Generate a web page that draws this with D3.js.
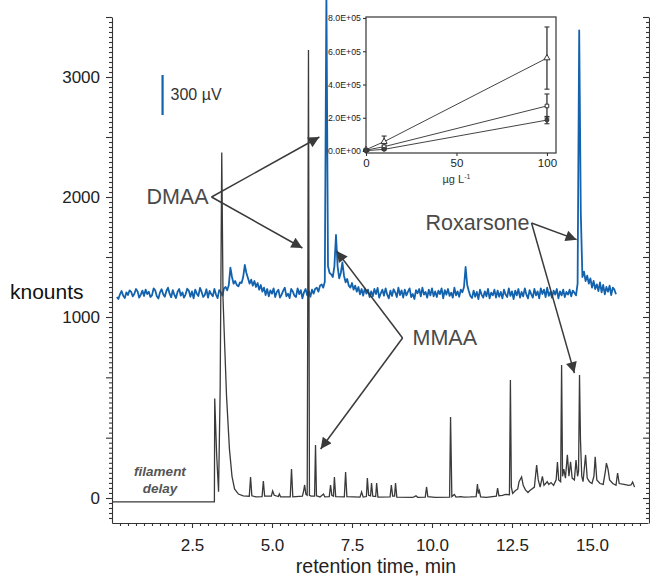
<!DOCTYPE html>
<html>
<head>
<meta charset="utf-8">
<script src="https://cdn.jsdelivr.net/npm/d3@7"></script>
<style>
  body { margin: 0; background: #fff; }
  text { font-family: "Liberation Sans", Arial, sans-serif; }
</style>
</head>
<body>
<div id="chart"></div>
<script>

var svgWidth = 650;
var svgHeight = 577;

var chartMargin = {
    top: 17,
    right: 2,
    bottom: 54,
    left: 112
};

var chartWidth = svgWidth - chartMargin.left - chartMargin.right;
var chartHeight = svgHeight - chartMargin.top - chartMargin.bottom;

// axis ticks
var xTickValues = [2.5, 5, 7.5, 10, 12.5, 15];
var xTickLabels = ["2.5", "5.0", "7.5", "10.0", "12.5", "15.0"];
var yBreaks = [0, 333.3, 666.7, 1000, 1500, 2000, 2500, 3000, 3500];
var yTickLabels = { 0: "0", 1000: "1000", 2000: "2000", 3000: "3000" };

// ICP-MS trace (black), [min, knounts]
var ionTrace = [
    [0.0, -22], [3.2, -22], [3.21, 550], [3.27, 240], [3.33, 35], [3.38, 600], [3.43, 2370], [3.47, 1150],
    [3.52, 850], [3.58, 560], [3.67, 270], [3.75, 120], [3.83, 50], [3.95, 22], [4.1, 12],
    [4.29, 10], [4.33, 116], [4.37, 12], [4.5, 6], [4.69, 8], [4.73, 94], [4.77, 10],
    [4.98, 10], [5.02, 39], [5.07, 15], [5.2, 8], [5.23, 22], [5.27, 6],
    [5.57, 6], [5.61, 160], [5.65, 6], [5.95, 10], [5.99, 40], [6.02, 72], [6.06, 20], [6.1, 15],
    [6.14, 3225], [6.17, 15], [6.22, 10], [6.33, 10], [6.36, 293], [6.39, 12], [6.5, 6], [6.61, 22], [6.65, 6],
    [6.79, 8], [6.83, 72], [6.87, 15], [6.92, 10], [6.95, 116], [6.99, 8],
    [7.26, 6], [7.3, 144], [7.34, 8], [7.75, 5], [7.8, 33], [7.85, 5],
    [7.95, 8], [7.98, 110], [8.02, 15], [8.08, 12], [8.11, 83], [8.15, 10], [8.24, 8], [8.27, 83], [8.31, 5],
    [8.69, 6], [8.73, 72], [8.77, 10], [8.83, 10], [8.86, 83], [8.9, 5],
    [9.4, 3], [9.5, 12], [9.55, 4], [9.79, 5], [9.83, 61], [9.87, 8], [10.1, 3],
    [10.55, 5], [10.58, 448], [10.62, 8], [10.7, 20], [10.75, 5], [10.9, 8], [11.0, 5], [11.2, 6],
    [11.38, 8], [11.42, 77], [11.45, 25], [11.48, 40], [11.52, 6], [11.7, 4],
    [12.01, 10], [12.05, 55], [12.09, 12], [12.2, 15], [12.3, 20], [12.42, 18], [12.45, 652], [12.48, 60],
    [12.52, 25], [12.6, 40], [12.68, 50], [12.72, 90], [12.8, 116], [12.85, 70], [12.92, 45], [13.0, 30], [13.05, 40],
    [13.2, 60], [13.27, 182], [13.32, 100], [13.38, 60], [13.45, 120], [13.5, 70], [13.6, 90], [13.65, 75],
    [13.72, 85], [13.8, 70], [13.88, 100], [13.92, 199], [13.96, 100], [14.02, 90], [14.05, 735], [14.08, 120],
    [14.12, 160], [14.17, 110], [14.23, 238], [14.28, 120], [14.33, 200], [14.38, 110], [14.45, 100], [14.5, 210],
    [14.55, 120], [14.58, 150], [14.61, 680], [14.64, 320], [14.68, 120], [14.72, 90], [14.8, 238], [14.85, 110],
    [14.92, 90], [15.0, 80], [15.06, 120], [15.1, 227], [15.15, 100], [15.25, 80], [15.35, 75], [15.42, 150],
    [15.45, 193], [15.5, 160], [15.55, 100], [15.65, 80], [15.75, 70], [15.8, 138], [15.85, 80], [16.0, 75],
    [16.15, 70], [16.22, 72], [16.27, 88], [16.33, 60]
];

// electrochemical trace (blue), µV above baseline, sampled every 0.05 min from 0.15 min
var ecdStart = 0.15;
var ecdStep = 0.05;
var ecdSignal = [
    -30, -45, -10, 15, -20, -38, 5, -15, 20, 8, -25, -5, 30, 12, -35, -12, 18, -22, 25, -8,
    10, -30, -18, 35, 20, -25, -42, 5, 28, -10, -28, 15, 40, -5, -32, 22, -15, -38, 10, 30,
    -20, 5, -35, -10, 32, 18, -28, 12, -40, 25, -5, -22, 38, 8, -30, -15, 28, -35, 15, -8,
    -25, 30, -12, -38, 22, 5, -20, 35, 45, 20, 60, 190, 120, 70, 90, 60, 50, 80, 75, 120,
    210, 150, 110, 70, 100, 55, 90, 45, 75, 25, 60, 10, 40, -15, 30, -25, 20, -5, 35, -30,
    8, 25, -35, -12, 18, 40, -25, -5, -38, 30, 12, -20, -30, 35, -8, 22, -40, 5, 30, -18,
    15, -28, 25, -5, 32, 40, 10, 55, 65, 40, 85, 2250, 200, 150, 140, 120, 200, 435, 200, 110,
    150, 230, 130, 80, 105, 55, 40, 75, 25, 55, 10, 45, -10, 30, -20, 35, -5, 25, -30, 12,
    -25, 30, -8, 38, -35, -2, 25, -20, 35, -12, -40, 18, -22, 28, 5, -30, 40, -15, 20, -35,
    25, -18, 10, 35, -30, -8, -45, 22, -2, 30, -25, 40, -12, 8, -35, 25, -18, 35, -25, 12,
    -30, 18, -8, 35, -40, 22, -12, 30, -22, 2, -35, 40, -18, 12, -28, 25, 5, 45, 195, 60,
    15, -22, -38, 18, -28, 8, -45, 25, -12, -35, 12, -25, 30, -40, 2, -18, 25, -35, 18, -28,
    8, -40, 25, -12, -30, 35, -22, 12, -45, 18, -18, 30, -35, 8, -25, 35, -12, -40, 22, -8,
    -35, 30, -18, 12, -40, 35, -8, 25, -30, 40, -22, 8, -35, 18, -12, 30, -40, 12, -18, 25,
    -30, 8, -12, 25, -25, 18, 2, -18, 70, 1970, 600, 120, 160, 90, 130, 70, 110, 40, 90, 30,
    65, 15, 80, 5, 60, -10, 45, 10, 55, -15, 40, 25, -10
];
var scaleBarUV = 300;

// inset calibration
var insetConc = [0, 10, 100];
var insetTriangle = [8000, 56000, 559000];
var insetTriangleErr = [4000, 34000, 187000];
var insetSquare = [5000, 26000, 271000];
var insetSquareErr = [3000, 9000, 72000];
var insetCircle = [2000, 10000, 186000];
var insetCircleErr = [2000, 5000, 22000];
var insetXTicks = [0, 50, 100];
var insetYTicks = [0, 200000, 400000, 600000, 800000];
var insetYLabels = ["0.0E+00", "2.0E+05", "4.0E+05", "6.0E+05", "8.0E+05"];

var svg = d3.select("#chart")
    .append("svg")
    .attr("width", svgWidth)
    .attr("height", svgHeight);

var defs = svg.append("defs");
defs.append("marker")
    .attr("id", "head")
    .attr("markerUnits", "userSpaceOnUse")
    .attr("viewBox", "0 0 10 10")
    .attr("markerWidth", 15)
    .attr("markerHeight", 11)
    .attr("refX", 10)
    .attr("refY", 5)
    .attr("orient", "auto")
    .append("path")
    .attr("d", "M0,0 L10,5 L0,10 z")
    .attr("fill", "#3a3a3a");

var chartGroup = svg.append("g")
    .attr("transform", `translate(${chartMargin.left}, ${chartMargin.top})`);

var xScale = d3.scaleLinear().domain([0, 16.75]).range([0, chartWidth]);
var yScale = d3.scaleLinear().domain([-139, 0, 1000, 3500]).range([chartHeight, 481, 300, 0]);
var yBlue = d3.scaleLinear().domain([0, scaleBarUV]).range([276, 236]);

function subdivide(breaks, n) {
    var out = [];
    for (var i = 0; i < breaks.length - 1; i++) {
        for (var k = 1; k < n; k++) out.push(breaks[i] + (breaks[i + 1] - breaks[i]) * k / n);
    }
    return out;
}
var yMinor = subdivide(yBreaks, 12).concat(subdivide([-111.1, 0], 4), [-111.1]);
var xMinor = d3.range(0.25, 16.6, 0.25).filter(v => xTickValues.indexOf(v) < 0);

// traces
chartGroup.append("path")
    .datum(ecdSignal)
    .attr("fill", "none")
    .attr("stroke", "#1262ae")
    .attr("stroke-width", 1.8)
    .attr("stroke-linejoin", "round")
    .attr("d", d3.line().x((d, i) => xScale(ecdStart + i * ecdStep)).y(d => yBlue(d)));

chartGroup.append("path")
    .datum(ionTrace)
    .attr("fill", "none")
    .attr("stroke", "#3a3a3a")
    .attr("stroke-width", 1.3)
    .attr("d", d3.line().x(d => xScale(d[0])).y(d => yScale(d[1])));

// axes
function styleAxis(g) {
    g.selectAll("path, line").attr("stroke", "#333").attr("stroke-width", 1.1);
    g.selectAll("text").attr("fill", "#222").attr("font-family", "Liberation Sans, Arial, sans-serif");
}

chartGroup.append("g")
    .call(d3.axisLeft(yScale).tickValues(yBreaks).tickSize(6).tickSizeOuter(0).tickPadding(6)
        .tickFormat(d => yTickLabels[d] || ""))
    .attr("font-size", 17)
    .call(styleAxis);
chartGroup.append("g")
    .call(d3.axisLeft(yScale).tickValues(yMinor).tickSize(3).tickFormat(""))
    .call(g => g.select(".domain").remove())
    .call(styleAxis);

chartGroup.append("g")
    .attr("transform", `translate(${chartWidth + 1}, 0)`)
    .call(d3.axisLeft(yScale).tickValues(yBreaks).tickSize(6).tickSizeOuter(0).tickFormat(""))
    .call(styleAxis);
chartGroup.append("g")
    .attr("transform", `translate(${chartWidth + 1}, 0)`)
    .call(d3.axisLeft(yScale).tickValues(yMinor).tickSize(3).tickFormat(""))
    .call(g => g.select(".domain").remove())
    .call(styleAxis);

chartGroup.append("g")
    .attr("transform", `translate(0, ${chartHeight})`)
    .call(d3.axisBottom(xScale).tickValues(xTickValues).tickSize(5).tickSizeOuter(0).tickPadding(11)
        .tickFormat((d, i) => xTickLabels[i]))
    .attr("font-size", 17)
    .call(styleAxis);
chartGroup.append("g")
    .attr("transform", `translate(0, ${chartHeight})`)
    .call(d3.axisBottom(xScale).tickValues(xMinor).tickSize(3).tickFormat(""))
    .call(g => g.select(".domain").remove())
    .call(styleAxis);

// axis titles
svg.append("text").text("retention time, min")
    .attr("x", 376).attr("y", 573)
    .attr("text-anchor", "middle").attr("font-size", 19.5).attr("fill", "#222");
svg.append("text").text("knounts")
    .attr("x", 10).attr("y", 299)
    .attr("font-size", 21).attr("fill", "#111");

chartGroup.append("text")
    .attr("x", xScale(1.5)).attr("y", 459)
    .attr("text-anchor", "middle").attr("font-size", 13.5)
    .attr("font-weight", "bold").attr("font-style", "italic").attr("fill", "#555")
    .selectAll("tspan").data(["filament", "delay"]).enter().append("tspan")
    .attr("x", xScale(1.5)).attr("dy", (d, i) => i ? 17 : 0).text(d => d);

// µV scale bar
var barX = xScale(1.58);
chartGroup.append("line")
    .attr("x1", barX).attr("x2", barX)
    .attr("y1", 58).attr("y2", 58 + yBlue(0) - yBlue(scaleBarUV))
    .attr("stroke", "#1262ae").attr("stroke-width", 2.2);
chartGroup.append("text").text("300 µV")
    .attr("x", barX + 8).attr("y", 83)
    .attr("font-size", 16).attr("fill", "#333");

// peak annotations (vertex and tips in data units)
var annotations = [
    { text: "DMAA", anchor: "end", dx: -3, at: [3.11, 2000],
      tips: [[6.48, yBlue(1170)], [5.95, yScale(1575)]] },
    { text: "MMAA", anchor: "start", dx: 10, at: [9.08, 884],
      tips: [[7.02, yBlue(315)], [6.52, yScale(271)]] },
    { text: "Roxarsone", anchor: "end", dx: -2, at: [13.11, 1783],
      tips: [[14.52, yBlue(400)], [14.45, yScale(690)]] }
];

annotations.forEach(a => {
    var vx = xScale(a.at[0]), vy = yScale(a.at[1]);
    a.tips.forEach(tp => {
        chartGroup.append("line")
            .attr("x1", vx).attr("y1", vy)
            .attr("x2", xScale(tp[0])).attr("y2", tp[1])
            .attr("stroke", "#3a3a3a").attr("stroke-width", 1.5)
            .attr("marker-end", "url(#head)");
    });
    chartGroup.append("text").text(a.text)
        .attr("x", vx + a.dx).attr("y", vy + 7)
        .attr("text-anchor", a.anchor)
        .attr("font-size", 21.5).attr("fill", "#4a4a4a");
});

// inset calibration plot
var inset = svg.append("g").attr("transform", "translate(366, 17)");
var insetW = 190, insetH = 136;
var ix = d3.scaleLinear().domain([0, 105]).range([0, insetW]);
var iy = d3.scaleLinear().domain([-12000, 806000]).range([insetH, 0]);

inset.append("rect")
    .attr("width", insetW).attr("height", insetH)
    .attr("fill", "#fff").attr("stroke", "#444").attr("stroke-width", 1.3);

inset.append("g")
    .call(d3.axisLeft(iy).tickValues(insetYTicks).tickSize(3).tickPadding(2)
        .tickFormat((d, i) => insetYLabels[i]))
    .attr("font-size", 8.8)
    .call(g => g.select(".domain").remove())
    .call(styleAxis);
inset.append("g")
    .attr("transform", `translate(0, ${insetH})`)
    .call(d3.axisBottom(ix).tickValues(insetXTicks).tickSize(3).tickPadding(3))
    .attr("font-size", 11.5)
    .call(g => g.select(".domain").remove())
    .call(styleAxis);

var insetLabel = inset.append("text")
    .attr("x", ix(50)).attr("y", 166)
    .attr("text-anchor", "middle").attr("font-size", 11).attr("fill", "#333");
insetLabel.append("tspan").text("µg L");
insetLabel.append("tspan").text("-1").attr("font-size", 7).attr("dy", -4);

var insetSeries = [
    { values: insetTriangle, err: insetTriangleErr, shape: d3.symbolTriangle, fill: "#fff", size: 16 },
    { values: insetSquare, err: insetSquareErr, shape: d3.symbolSquare, fill: "#fff", size: 13 },
    { values: insetCircle, err: insetCircleErr, shape: d3.symbolCircle, fill: "#444", size: 12 }
];

insetSeries.forEach(s => {
    var pts = insetConc.map((c, i) => ({ c: c, v: s.values[i], e: s.err[i] }));
    inset.append("path")
        .datum(pts)
        .attr("fill", "none").attr("stroke", "#444").attr("stroke-width", 1)
        .attr("d", d3.line().x(d => ix(d.c)).y(d => iy(d.v)));
    var eb = inset.selectAll(null).data(pts).enter().append("g");
    eb.append("line")
        .attr("x1", d => ix(d.c)).attr("x2", d => ix(d.c))
        .attr("y1", d => iy(d.v - d.e)).attr("y2", d => iy(d.v + d.e))
        .attr("stroke", "#333").attr("stroke-width", 1.3);
    [-1, 1].forEach(sign => {
        eb.append("line")
            .attr("x1", d => ix(d.c) - 2.5).attr("x2", d => ix(d.c) + 2.5)
            .attr("y1", d => iy(d.v + sign * d.e)).attr("y2", d => iy(d.v + sign * d.e))
            .attr("stroke", "#333").attr("stroke-width", 1.1);
    });
    inset.selectAll(null).data(pts).enter().append("path")
        .attr("transform", d => `translate(${ix(d.c)}, ${iy(d.v)})`)
        .attr("d", d3.symbol().type(s.shape).size(s.size))
        .attr("fill", s.fill).attr("stroke", "#333").attr("stroke-width", 1);
});

</script>
</body>
</html>
